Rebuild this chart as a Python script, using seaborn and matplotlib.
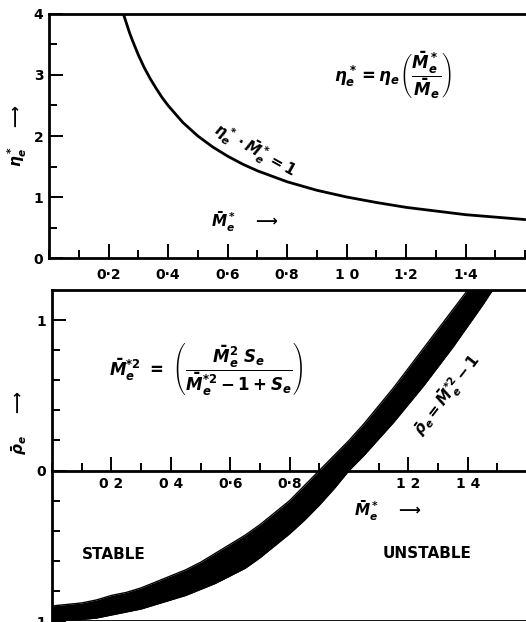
import seaborn as sns
import pandas as pd
import matplotlib
matplotlib.use("Agg")
import matplotlib.pyplot as plt
from matplotlib.ticker import MultipleLocator, FixedLocator

sns.set_style("ticks")
plt.rcParams['font.family'] = ['DejaVu Sans']
plt.rcParams['font.weight'] = 'bold'
plt.rcParams['mathtext.fontset'] = 'custom'
plt.rcParams['mathtext.rm'] = 'DejaVu Sans:bold'
plt.rcParams['mathtext.it'] = 'DejaVu Sans:bold:italic'
plt.rcParams['mathtext.bf'] = 'DejaVu Sans:bold'
for k in ['text.color', 'axes.labelcolor', 'xtick.color', 'ytick.color', 'axes.edgecolor']:
    plt.rcParams[k] = 'black'

# top panel: eta*_e . M*_e = 1
m_hyp = [0.25, 0.26, 0.27, 0.28, 0.3, 0.32, 0.34, 0.36, 0.38, 0.4, 0.45, 0.5, 0.55,
         0.6, 0.65, 0.7, 0.8, 0.9, 1.0, 1.1, 1.2, 1.3, 1.4, 1.5, 1.6]
eta_hyp = [4.0, 3.85, 3.7, 3.57, 3.33, 3.12, 2.94, 2.78, 2.63, 2.5, 2.22, 2.0, 1.82,
           1.67, 1.54, 1.43, 1.25, 1.11, 1.0, 0.91, 0.83, 0.77, 0.71, 0.67, 0.63]

# bottom panel: thick band rho_e = M*_e^2 - 1 (left / right edges)
m_band = [0.0, 0.05, 0.1, 0.15, 0.2, 0.25, 0.3, 0.35, 0.4, 0.45, 0.5, 0.55, 0.6,
          0.65, 0.7, 0.75, 0.8, 0.85, 0.9, 0.95, 1.0, 1.05, 1.1, 1.15, 1.2, 1.25,
          1.3, 1.35, 1.4, 1.45, 1.5]
rho_upper = [-0.90, -0.89, -0.88, -0.86, -0.83, -0.81, -0.78, -0.74, -0.70, -0.66,
             -0.61, -0.55, -0.49, -0.43, -0.36, -0.28, -0.20, -0.10, 0.0, 0.10,
             0.2, 0.31, 0.43, 0.55, 0.68, 0.81, 0.94, 1.07, 1.2, 1.33, 1.47]
rho_lower = [-1.0, -0.995, -0.99, -0.98, -0.96, -0.94, -0.92, -0.89, -0.86, -0.83,
             -0.79, -0.75, -0.70, -0.65, -0.58, -0.50, -0.42, -0.33, -0.23, -0.12,
             0.0, 0.10, 0.21, 0.32, 0.44, 0.56, 0.69, 0.82, 0.96, 1.10, 1.25]

top_ticks = [0.2, 0.4, 0.6, 0.8, 1.0, 1.2, 1.4]
top_labels = ["0·2", "0·4", "0·6", "0·8", "1 0", "1·2", "1·4"]
bot_labels = ["0 2", "0 4", "0·6", "0·8", "", "1 2", "1 4"]

hyp = pd.DataFrame({"M": m_hyp, "eta": eta_hyp})
band = pd.DataFrame({"M": m_band, "up": rho_upper, "lo": rho_lower})

fig = plt.figure(figsize=(5.26, 6.22), dpi=100)
ax1 = fig.add_axes([0.0932, 0.5852, 0.907, 0.3923])
ax2 = fig.add_axes([0.0989, 0.0016, 0.9011, 0.5322])

### TOP ###
sns.lineplot(data=hyp, x="M", y="eta", color="black", linewidth=2, ax=ax1)
ax1.set_xlim(0, 1.603)
ax1.set_ylim(0, 4)
ax1.set_xticks(top_ticks)
ax1.set_xticklabels(top_labels)
ax1.xaxis.set_minor_locator(MultipleLocator(0.1))
ax1.set_yticks([0, 1, 2, 3, 4])
ax1.yaxis.set_minor_locator(MultipleLocator(0.5))
ax1.tick_params(which="both", direction="in", width=1.4, labelsize=10)
ax1.tick_params(which="major", length=10)
ax1.tick_params(which="minor", length=6)
ax1.tick_params(axis="x", pad=7)
ax1.tick_params(axis="y", pad=4)
ax1.spines["right"].set_visible(False)
for s in ["left", "bottom", "top"]:
    ax1.spines[s].set_linewidth(2)
ax1.set_xlabel("")
ax1.set_ylabel(r"$\eta^*_e$   $\longrightarrow$", fontsize=11)
ax1.yaxis.set_label_coords(-0.042, 0.5)
ax1.text(1.156, 3.0, r"$\eta^*_e = \eta_e\left(\dfrac{\bar{M}^*_e}{\bar{M}_e}\right)$",
         fontsize=12, ha="center", va="center")
ax1.text(0.69, 1.77, r"$\eta^*_e \cdot \bar{M}^*_e = 1$", fontsize=11,
         rotation=-29, ha="center", va="center")
ax1.text(0.66, 0.59, r"$\bar{M}^*_e$   $\longrightarrow$", fontsize=11,
         ha="center", va="center")

### BOTTOM ###
ax2.fill_between(band["M"], band["lo"], band["up"], color="black", linewidth=0)
sns.lineplot(data=band, x="M", y="up", color="black", linewidth=1, ax=ax2)
sns.lineplot(data=band, x="M", y="lo", color="black", linewidth=1, ax=ax2)
ax2.set_xlim(0, 1.596)
ax2.set_ylim(-1, 1.2)
ax2.spines["bottom"].set_position(("data", 0))
ax2.axhline(-1, color="black", linewidth=2)
ax2.set_xticks(top_ticks)
ax2.set_xticklabels(bot_labels)
ax2.xaxis.set_minor_locator(MultipleLocator(0.1))
ax2.set_yticks([-1, 0, 1])
ax2.set_yticklabels(["-1", "0", "1"])
ax2.yaxis.set_minor_locator(FixedLocator([-0.8, -0.6, -0.4, -0.2, 0.2, 0.4, 0.6, 0.8]))
ax2.tick_params(which="both", direction="in", width=1.4, labelsize=10)
ax2.tick_params(which="major", length=10)
ax2.tick_params(which="minor", length=6)
ax2.tick_params(axis="x", pad=5)
ax2.tick_params(axis="y", pad=4)
ax2.spines["right"].set_visible(False)
for s in ["left", "bottom", "top"]:
    ax2.spines[s].set_linewidth(2)
ax2.set_xlabel("")
ax2.set_ylabel(r"$\bar{\rho}_e$    $\longrightarrow$", fontsize=11)
ax2.yaxis.set_label_coords(-0.048, 0.6)
ax2.text(0.52, 0.67,
         r"$\bar{M}^{*2}_e\ =\ \left(\dfrac{\bar{M}^2_e\ S_e}{\bar{M}^{*2}_e - 1 + S_e}\right)$",
         fontsize=12, ha="center", va="center")
ax2.text(1.33, 0.5, r"$\bar{\rho}_e = \bar{M}^{*2}_e - 1$", fontsize=11,
         rotation=52, ha="center", va="center")
ax2.text(1.13, -0.265, r"$\bar{M}^*_e$   $\longrightarrow$", fontsize=11,
         ha="center", va="center")
ax2.text(0.209, -0.556, "STABLE", fontsize=11, fontweight="bold",
         ha="center", va="center")
ax2.text(1.263, -0.55, "UNSTABLE", fontsize=11, fontweight="bold",
         ha="center", va="center")

fig.savefig("out.png", dpi=100)
